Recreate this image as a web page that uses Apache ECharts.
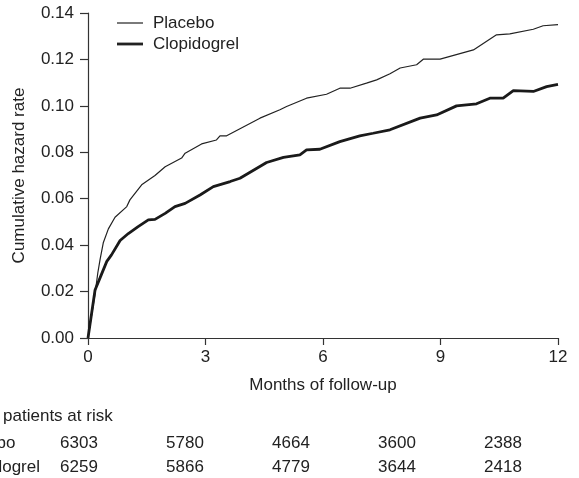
<!DOCTYPE html>
<html>
<head>
<meta charset="utf-8">
<script src="https://cdn.jsdelivr.net/npm/echarts@6/dist/echarts.min.js"></script>
<style>
  html, body { margin: 0; padding: 0; background: #fff; }
  #chart { width: 579px; height: 478px; }
</style>
</head>
<body>
<div id="chart"></div>
<script>
// 曲线数据
var placeboMonths = [0, 0.18, 0.25, 0.31, 0.39, 0.52, 0.69, 0.99, 1.07, 1.37, 1.71, 1.97, 2.39, 2.48, 2.9, 3.28, 3.37, 3.54, 4.39, 4.9, 5.07, 5.58, 6.09, 6.43, 6.69, 7.11, 7.37, 7.71, 7.97, 8.39, 8.56, 8.99, 9.84, 10.43, 10.77, 11.37, 11.62, 12];
var placeboRate = [0, 0.019, 0.028, 0.034, 0.041, 0.047, 0.052, 0.0566, 0.0595, 0.066, 0.070, 0.0738, 0.0775, 0.0796, 0.0836, 0.0853, 0.0871, 0.0871, 0.0947, 0.0983, 0.0997, 0.1033, 0.1050, 0.1076, 0.1076, 0.1098, 0.1112, 0.1138, 0.1163, 0.1177, 0.1201, 0.1201, 0.1241, 0.1306, 0.1310, 0.1330, 0.1345, 0.1350];
var clopiMonths = [0, 0.18, 0.31, 0.48, 0.6, 0.82, 1.03, 1.28, 1.54, 1.71, 1.97, 2.22, 2.48, 2.86, 3.2, 3.63, 3.88, 4.56, 4.99, 5.41, 5.58, 5.92, 6.43, 6.94, 7.28, 7.71, 8.48, 8.9, 9.41, 9.92, 10.26, 10.6, 10.86, 11.37, 11.71, 12];
var clopiRate = [0, 0.0207, 0.026, 0.033, 0.0358, 0.042, 0.045, 0.048, 0.0509, 0.0511, 0.0537, 0.0566, 0.058, 0.0616, 0.0652, 0.0674, 0.0688, 0.0756, 0.0778, 0.0789, 0.081, 0.0813, 0.0846, 0.0871, 0.0882, 0.0897, 0.0947, 0.0961, 0.1000, 0.1009, 0.1033, 0.1033, 0.1066, 0.1062, 0.1083, 0.1093];

// 风险人数表
var riskTitle = 'No. of patients at risk';
var riskGroups = ['Placebo', 'Clopidogrel'];
var riskPlacebo = [6303, 5780, 4664, 3600, 2388];
var riskClopi = [6259, 5866, 4779, 3644, 2418];

var fontName = '"Liberation Sans", Arial, sans-serif';
var fs = 17;
var ink = '#222';
var lineWidths = [1.2, 2.8];

function pairs(xs, ys) {
  var out = [];
  for (var i = 0; i < xs.length; i++) out.push([xs[i], ys[i]]);
  return out;
}

function txt(text, x, y, align) {
  return {
    type: 'text', x: x, y: y,
    style: { text: text, font: fs + 'px ' + fontName, fill: ink,
      align: align || 'left', verticalAlign: 'middle' }
  };
}

function riskRow(label, values, y) {
  var items = [txt(label, -46, y)];
  for (var i = 0; i < values.length; i++) {
    items.push(txt(String(values[i]), 79 + i * 106, y, 'center'));
  }
  return items;
}

// 图例（手画：细线 / 粗线）
function legendItem(name, width, y) {
  return [{
    type: 'line', shape: { x1: 117, y1: y, x2: 143, y2: y },
    style: { stroke: ink, lineWidth: width }
  }, txt(name, 153, y)];
}

var chart = echarts.init(document.getElementById('chart'));
var axisCol = '#333';

var graphics = [txt(riskTitle, -47, 416)]
  .concat(riskRow(riskGroups[0], riskPlacebo, 443), riskRow(riskGroups[1], riskClopi, 467))
  .concat(legendItem(riskGroups[0], lineWidths[0], 23), legendItem(riskGroups[1], lineWidths[1], 44));

chart.setOption({
  animation: false,
  backgroundColor: '#fff',
  textStyle: { fontFamily: fontName },
  grid: { left: 88, right: 21, top: 13, bottom: 140, containLabel: false },
  xAxis: {
    type: 'value', min: 0, max: 12, interval: 3,
    name: 'Months of follow-up', nameLocation: 'middle', nameGap: 39,
    nameTextStyle: { fontSize: fs, color: ink },
    axisLine: { lineStyle: { color: axisCol, width: 1.2 } },
    axisTick: { length: 7, lineStyle: { color: axisCol, width: 1.2 } },
    axisLabel: { fontSize: fs, color: ink, margin: 11 },
    splitLine: { show: false }
  },
  yAxis: {
    type: 'value', min: 0, max: 0.14, interval: 0.02,
    name: 'Cumulative hazard rate', nameLocation: 'middle', nameGap: 60,
    nameTextStyle: { fontSize: fs, color: ink },
    axisLine: { show: true, lineStyle: { color: axisCol, width: 1.2 } },
    axisTick: { show: true, length: 8, lineStyle: { color: axisCol, width: 1.2 } },
    axisLabel: { fontSize: fs, color: ink, margin: 14,
      formatter: function (v) { return v.toFixed(2); } },
    splitLine: { show: false }
  },
  series: [{
    name: riskGroups[0], type: 'line', symbol: 'none',
    data: pairs(placeboMonths, placeboRate),
    lineStyle: { color: ink, width: lineWidths[0] }
  }, {
    name: riskGroups[1], type: 'line', symbol: 'none',
    data: pairs(clopiMonths, clopiRate),
    lineStyle: { color: '#1a1a1a', width: lineWidths[1] }
  }],
  graphic: graphics
});
</script>
</body>
</html>
